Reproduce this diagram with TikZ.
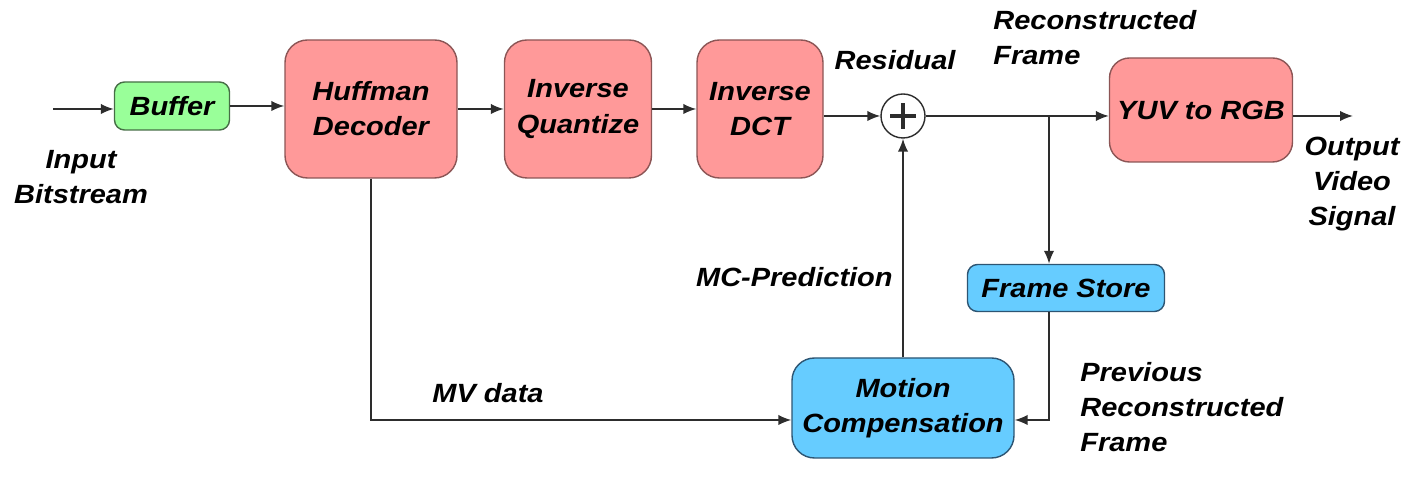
\documentclass[tikz,border=0pt]{standalone}
\usepackage{fontspec}
\setmainfont[FakeStretch=1.1]{Liberation Sans}
\usepackage{tikz}
\usepackage{xcolor}
\usetikzlibrary{arrows.meta,positioning,calc}
\definecolor{linedark}{RGB}{45,45,45}
\definecolor{boxpink}{RGB}{255,153,153}
\definecolor{edgepink}{RGB}{140,85,85}
\definecolor{boxgreen}{RGB}{153,255,153}
\definecolor{edgegreen}{RGB}{70,110,70}
\definecolor{boxblue}{RGB}{102,204,255}
\definecolor{edgeblue}{RGB}{45,85,115}
\newcommand{\lbl}{\fontsize{15}{20}\selectfont\bfseries\itshape}

\begin{document}
\begin{tikzpicture}[x=1cm,y=1cm,
  block/.style={draw=edgepink,fill=boxpink,line width=0.8pt,rounded corners=0.45cm,
    align=center,inner sep=0pt,font=\lbl},
  smallblock/.style={block,rounded corners=0.2cm},
  flow/.style={draw=linedark,line width=1pt,-{Latex[length=2.6mm,width=2.1mm]}},
  tag/.style={font=\lbl,align=center,inner sep=0pt}]
\useasboundingbox (0,0) rectangle (28.14,9.62);

% top row
\node[smallblock,fill=boxgreen,draw=edgegreen,minimum width=2.3cm,minimum height=0.96cm] (buffer) at (3.44,7.5) {Buffer};
\node[block,minimum width=3.44cm,minimum height=2.76cm] (huffman) at (7.42,7.44) {Huffman\\Decoder};
\node[block,minimum width=2.94cm,minimum height=2.76cm] (quant) at (11.56,7.44) {Inverse\\Quantize};
\node[block,minimum width=2.52cm,minimum height=2.76cm] (dct) at (15.2,7.44) {Inverse\\DCT};
\node[circle,draw=linedark,fill=white,line width=0.8pt,minimum size=0.88cm,inner sep=0pt,
  path picture={\draw[line width=1.9pt] ($(path picture bounding box.center)+(-0.26,0)$) -- ++(0.52,0);
                \draw[line width=1.9pt] ($(path picture bounding box.center)+(0,-0.26)$) -- ++(0,0.52);}] (sum) at (18.06,7.3) {};
\node[block,rounded corners=0.4cm,minimum width=3.66cm,minimum height=2.08cm] (yuv) at (24.02,7.42) {YUV to RGB};

% lower row
\node[smallblock,fill=boxblue,draw=edgeblue,minimum width=3.94cm,minimum height=0.94cm] (store) at (21.32,3.86) {Frame Store};
\node[block,fill=boxblue,draw=edgeblue,minimum width=4.44cm,minimum height=2.0cm] (mc) at (18.06,1.46) {Motion\\Compensation};

% free ends of the wires
\coordinate (in) at (1.06,7.44);
\coordinate (out) at (27.06,7.3);
\coordinate (tap) at (20.98,7.3);
\coordinate (low) at (0,1.22);

% connectors
\draw[flow] (in) -- (in -| buffer.west);
\draw[flow] (buffer.east) -- (buffer.east -| huffman.west);
\draw[flow] (huffman.east) -- (quant.west);
\draw[flow] (quant.east) -- (dct.west);
\draw[flow] (dct.east |- sum.west) -- (sum.west);
\draw[flow] (sum.east) -- (sum -| yuv.west);
\draw[flow] (yuv.east |- out) -- (out);
\draw[flow] (tap) -- (tap |- store.north);
\draw[flow] (tap |- store.south) |- (mc.east |- low);
\draw[flow] (huffman.south) |- (mc.west |- low);
\draw[flow] (mc.north) -- (sum.south);

% labels
\node[tag] (inlbl) at (1.62,6.08) {Input\\Bitstream};
\node[tag] (reslbl) at (17.9,8.42) {Residual};
\node[tag,anchor=west,align=left] (reclbl) at (19.86,8.86) {Reconstructed\\Frame};
\node[tag] (outlbl) at (27.04,5.94) {Output\\Video\\Signal};
\node[tag,anchor=east] (predlbl) at (17.86,4.08) {MC-Prediction};
\node[tag] (mvlbl) at (9.76,1.76) {MV data};
\node[tag,anchor=west,align=left] (prevlbl) at (21.6,1.48) {Previous\\Reconstructed\\Frame};
\end{tikzpicture}
\end{document}
